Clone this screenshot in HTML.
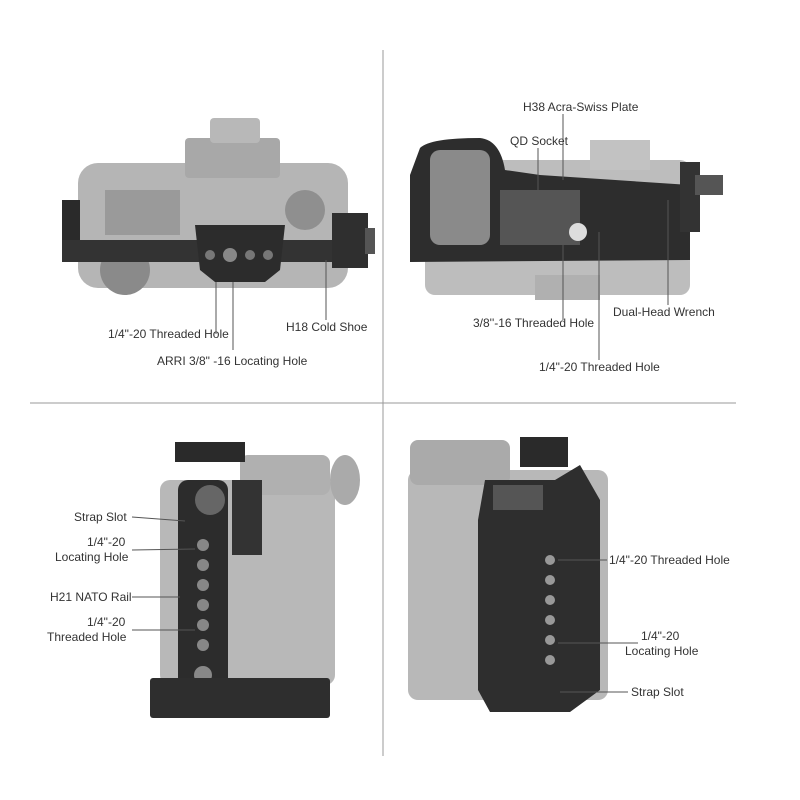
<!DOCTYPE html>
<html><head><meta charset="utf-8"><style>
body{margin:0;background:#fff;}
#c{position:relative;width:800px;height:800px;overflow:hidden;font-family:"Liberation Sans",sans-serif;font-size:12px;color:#333;}
.t{position:absolute;white-space:nowrap;line-height:14px;}
.r{position:absolute;}
</style></head><body><div id="c">
<svg width="800" height="800" style="position:absolute;left:0;top:0">
<line x1="383" y1="50" x2="383" y2="756" stroke="#999" stroke-width="1"/>
<line x1="30" y1="403" x2="736" y2="403" stroke="#999" stroke-width="1"/>
<!-- TL camera -->
<rect x="78" y="163" width="270" height="125" rx="20" fill="#b5b5b5"/>
<rect x="185" y="138" width="95" height="40" rx="4" fill="#a8a8a8"/>
<rect x="210" y="118" width="50" height="25" rx="4" fill="#b8b8b8"/>
<rect x="105" y="190" width="75" height="45" fill="#9a9a9a"/>
<circle cx="305" cy="210" r="20" fill="#8f8f8f"/>
<circle cx="125" cy="270" r="25" fill="#8a8a8a"/>
<rect x="62" y="200" width="18" height="55" fill="#2a2a2a"/>
<rect x="62" y="240" width="270" height="22" fill="#333"/>
<path d="M195 225 L285 225 L280 270 L265 282 L215 282 L200 270 Z" fill="#2c2c2c"/>
<circle cx="230" cy="255" r="7" fill="#888"/><circle cx="210" cy="255" r="5" fill="#777"/><circle cx="250" cy="255" r="5" fill="#777"/><circle cx="268" cy="255" r="5" fill="#777"/>
<rect x="332" y="213" width="36" height="55" fill="#2f2f2f"/>
<rect x="365" y="228" width="10" height="26" fill="#555"/>
<line x1="233" y1="282" x2="233" y2="350" stroke="#555"/>
<line x1="216" y1="282" x2="216" y2="334" stroke="#555"/>
<line x1="326" y1="260" x2="326" y2="320" stroke="#555"/>
<!-- TR camera -->
<rect x="425" y="160" width="265" height="135" rx="10" fill="#bdbdbd"/>
<rect x="535" y="275" width="65" height="25" fill="#b0b0b0"/>
<rect x="590" y="140" width="60" height="30" fill="#c2c2c2"/>
<path d="M420 148 Q430 138 480 138 Q500 140 505 170 L540 175 L690 185 L690 260 L410 262 L410 175 Z" fill="#2d2d2d"/>
<rect x="430" y="150" width="60" height="95" rx="10" fill="#8a8a8a"/>
<rect x="500" y="190" width="80" height="55" fill="#555"/>
<circle cx="578" cy="232" r="9" fill="#ddd"/>
<rect x="680" y="162" width="20" height="70" fill="#333"/>
<rect x="695" y="175" width="28" height="20" fill="#555"/>
<line x1="563" y1="114" x2="563" y2="180" stroke="#555"/>
<line x1="538" y1="148" x2="538" y2="190" stroke="#555"/>
<line x1="563" y1="232" x2="563" y2="320" stroke="#555"/>
<line x1="599" y1="232" x2="599" y2="360" stroke="#555"/>
<line x1="668" y1="200" x2="668" y2="305" stroke="#555"/>
<!-- BL camera -->
<rect x="160" y="480" width="175" height="205" rx="10" fill="#b8b8b8"/>
<rect x="240" y="455" width="90" height="40" rx="8" fill="#b0b0b0"/>
<ellipse cx="345" cy="480" rx="15" ry="25" fill="#aaa"/>
<rect x="178" y="480" width="50" height="210" rx="10" fill="#2c2c2c"/>
<rect x="175" y="442" width="70" height="20" fill="#2a2a2a"/>
<circle cx="210" cy="500" r="15" fill="#666"/>
<rect x="232" y="480" width="30" height="75" fill="#333"/>
<g fill="#888"><circle cx="203" cy="545" r="6"/><circle cx="203" cy="565" r="6"/><circle cx="203" cy="585" r="6"/><circle cx="203" cy="605" r="6"/><circle cx="203" cy="625" r="6"/><circle cx="203" cy="645" r="6"/><circle cx="203" cy="675" r="9"/></g>
<rect x="150" y="678" width="180" height="40" rx="3" fill="#2e2e2e"/>
<line x1="132" y1="517" x2="185" y2="521" stroke="#555"/>
<line x1="132" y1="550" x2="195" y2="549" stroke="#555"/>
<line x1="132" y1="597" x2="180" y2="597" stroke="#555"/>
<line x1="132" y1="630" x2="195" y2="630" stroke="#555"/>
<!-- BR camera -->
<rect x="408" y="470" width="200" height="230" rx="10" fill="#b8b8b8"/>
<rect x="410" y="440" width="100" height="45" rx="8" fill="#aaa"/>
<path d="M485 480 L555 480 L580 465 L600 500 L600 690 L570 712 L490 712 L478 690 L478 520 Z" fill="#2e2e2e"/>
<rect x="520" y="437" width="48" height="30" fill="#2a2a2a"/>
<rect x="493" y="485" width="50" height="25" fill="#555"/>
<g fill="#999"><circle cx="550" cy="560" r="5"/><circle cx="550" cy="580" r="5"/><circle cx="550" cy="600" r="5"/><circle cx="550" cy="620" r="5"/><circle cx="550" cy="640" r="5"/><circle cx="550" cy="660" r="5"/></g>
<line x1="558" y1="560" x2="607" y2="560" stroke="#555"/>
<line x1="558" y1="643" x2="638" y2="643" stroke="#555"/>
<line x1="560" y1="692" x2="628" y2="692" stroke="#555"/>
</svg>
<div class="t" style="left:108px;top:327px">1/4"-20 Threaded Hole</div>
<div class="t" style="left:286px;top:320px">H18 Cold Shoe</div>
<div class="t" style="left:157px;top:354px">ARRI 3/8" -16 Locating Hole</div>
<div class="t" style="left:523px;top:100px">H38 Acra-Swiss Plate</div>
<div class="t" style="left:510px;top:134px">QD Socket</div>
<div class="t" style="left:613px;top:305px">Dual-Head Wrench</div>
<div class="t" style="left:473px;top:316px">3/8''-16 Threaded Hole</div>
<div class="t" style="left:539px;top:360px">1/4"-20 Threaded Hole</div>
<div class="t" style="left:74px;top:510px">Strap Slot</div>
<div class="t" style="left:87px;top:535px">1/4"-20</div>
<div class="t" style="left:55px;top:550px">Locating Hole</div>
<div class="t" style="left:50px;top:590px">H21 NATO Rail</div>
<div class="t" style="left:87px;top:615px">1/4"-20</div>
<div class="t" style="left:47px;top:630px">Threaded Hole</div>
<div class="t" style="left:609px;top:553px">1/4"-20 Threaded Hole</div>
<div class="t" style="left:641px;top:629px">1/4"-20</div>
<div class="t" style="left:625px;top:644px">Locating Hole</div>
<div class="t" style="left:631px;top:685px">Strap Slot</div>
</div></body></html>
